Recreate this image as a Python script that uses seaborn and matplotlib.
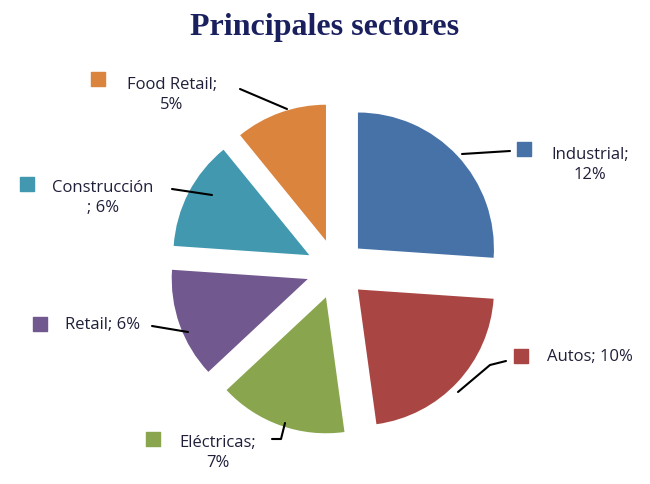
import matplotlib
matplotlib.use("Agg")
import matplotlib.pyplot as plt
import seaborn as sns

sns.set_theme(style="white")
plt.rcParams['font.family'] = ['Open Sans', 'DejaVu Sans']

categories = ["Industrial", "Autos", "Eléctricas", "Retail", "Construcción", "Food Retail"]
values = [12, 10, 7, 6, 6, 5]
label_texts = ["Industrial;\n12%", "Autos; 10%", "Eléctricas;\n7%", "Retail; 6%", "Construcción\n; 6%", "Food Retail;\n5%"]
colors = ["#4672A8", "#A94643", "#89A54E", "#71588F", "#4198AF", "#DB843D"]

W, H = 650, 485
fig = plt.figure(figsize=(W/100, H/100), dpi=100)
ax = fig.add_axes([0, 0, 1, 1])
ax.set_xlim(0, W); ax.set_ylim(0, H); ax.set_aspect('equal'); ax.axis('off')

def P(x, y):
    return (x, H - y)

# explode is in data units (offset is not scaled by radius)
ax.pie(values, colors=colors, startangle=90, counterclock=False,
       explode=[30]*len(values), radius=136, center=P(336, 270), frame=True,
       wedgeprops=dict(linewidth=0))
ax.set_xlim(0, W); ax.set_ylim(0, H); ax.axis('off')

layout = [
    ((590, 165), (524, 150), [(462, 155), (510, 152)]),
    ((590, 357), (521, 357), [(458, 393), (490, 366), (506, 362)]),
    ((218, 453), (153, 440), [(285, 424), (281, 440), (272, 440)]),
    ((103, 325), (40, 325), [(188, 333), (152, 327)]),
    ((103, 198), (27, 185), [(212, 196), (172, 190)]),
    ((172, 95), (98, 80), [(287, 110), (240, 90)]),
]
for txt, c, (tp, sp, line) in zip(label_texts, colors, layout):
    ax.text(*P(*tp), txt, ha='center', va='center', fontsize=12, color='#1f1f3a', linespacing=1.3)
    ax.scatter(*P(*sp), marker='s', s=90, color=c)
    xs = [p[0] for p in line]; ys = [H - p[1] for p in line]
    ax.plot(xs, ys, color='black', lw=1.5)

fig.text(0.5, 1 - 28/H, "Principales sectores", ha='center', va='center',
         fontsize=23, fontweight='bold', color='#1a1f5e', family=['Liberation Serif', 'DejaVu Serif'])

fig.savefig("out.png", dpi=100)
